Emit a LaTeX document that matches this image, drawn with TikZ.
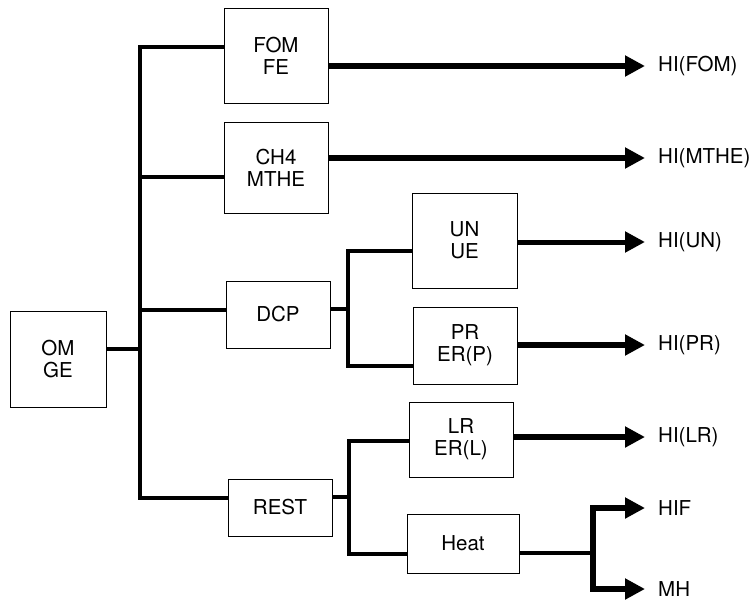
\documentclass[tikz,border=0pt]{standalone}
\usepackage{fontspec}
\setmainfont{TeX Gyre Heros}
\usetikzlibrary{arrows.meta}

\tikzset{
  box/.style={draw, line width=0.8pt, align=center, inner sep=0pt,
    font=\fontsize{20.5}{22}\selectfont},
  outlabel/.style={anchor=west, inner sep=2pt, font=\fontsize{20.5}{22}\selectfont},
  bus/.style={line width=4.5pt, line join=miter},
  flow/.style={line width=6pt, -{Triangle[length=20pt,width=20pt]}, shorten >=11pt}
}

\begin{document}
\begin{tikzpicture}[x=1pt,y=-1pt]
            \useasboundingbox (0,0) rectangle (754,602);
            % blocks
            \node[box, minimum width=96pt, minimum height=96pt] (om) at (58,359) {OM\\GE};
            \node[box, minimum width=104pt, minimum height=95pt] (fom) at (276,55.5) {FOM\\FE};
            \node[box, minimum width=104pt, minimum height=91pt] (ch) at (276,167.5) {CH4\\MTHE};
            \node[box, minimum width=104pt, minimum height=67pt] (dcp) at (278,314.5) {DCP};
            \node[box, minimum width=104pt, minimum height=57pt] (rest) at (280,507.5) {REST};
            \node[box, minimum width=105pt, minimum height=95pt] (un) at (464.5,240.5) {UN\\UE};
            \node[box, minimum width=104pt, minimum height=77pt] (pr) at (465,345.5) {PR\\ER(P)};
            \node[box, minimum width=104pt, minimum height=75pt] (lr) at (461,439.5) {LR\\ER(L)};
            \node[box, minimum width=112pt, minimum height=59pt] (heat) at (463,543.5) {Heat};
            % outputs
            \node[outlabel] (hifom) at (656,66) {HI(FOM)};
            \node[outlabel] (himthe) at (656,158) {HI(MTHE)};
            \node[outlabel] (hiun) at (656,242) {HI(UN)};
            \node[outlabel] (hipr) at (656,345) {HI(PR)};
            \node[outlabel] (hilr) at (656,437) {HI(LR)};
            \node[outlabel] (hif) at (656,508) {HIF};
            \node[outlabel] (mh) at (656,589) {MH};
            % junction points
            \coordinate (jom) at (140,349);
            \coordinate (jfom) at (140,47);
            \coordinate (jch) at (140,177);
            \coordinate (jdcp) at (140,310);
            \coordinate (jrest) at (140,498);
            \coordinate (kdcp) at (348,309);
            \coordinate (kun) at (348,251);
            \coordinate (kpr) at (348,366);
            \coordinate (krest) at (349,497);
            \coordinate (klr) at (349,441);
            \coordinate (kheat) at (349,554);
            \coordinate (hb) at (593,553);
            % first split
            \draw[bus] (om.east |- jom) -- (jom);
            \draw[bus] (fom.west |- jfom) -- (jfom) -- (jrest) -- (rest.west |- jrest);
            \draw[bus] (jch) -- (ch.west |- jch);
            \draw[bus] (jdcp) -- (dcp.west |- jdcp);
            % second split
            \draw[bus] (dcp.east |- kdcp) -- (kdcp);
            \draw[bus] (un.west |- kun) -- (kun) -- (kpr) -- (pr.west |- kpr);
            % third split
            \draw[bus] (rest.east |- krest) -- (krest);
            \draw[bus] (lr.west |- klr) -- (klr) -- (kheat) -- (heat.west |- kheat);
            % arrows out
            \draw[flow] (fom.east |- hifom) -- (hifom.west);
            \draw[flow] (ch.east |- himthe) -- (himthe.west);
            \draw[flow, line width=5pt] (un.east |- hiun) -- (hiun.west);
            \draw[flow] (pr.east |- hipr) -- (hipr.west);
            \draw[flow] (lr.east |- hilr) -- (hilr.west);
            \draw[bus] (heat.east |- hb) -- (hb);
            \draw[flow, line join=miter] (hb) |- (hif.west);
            \draw[flow, line join=miter] (hb) |- (mh.west);
        \end{tikzpicture}
\end{document}
